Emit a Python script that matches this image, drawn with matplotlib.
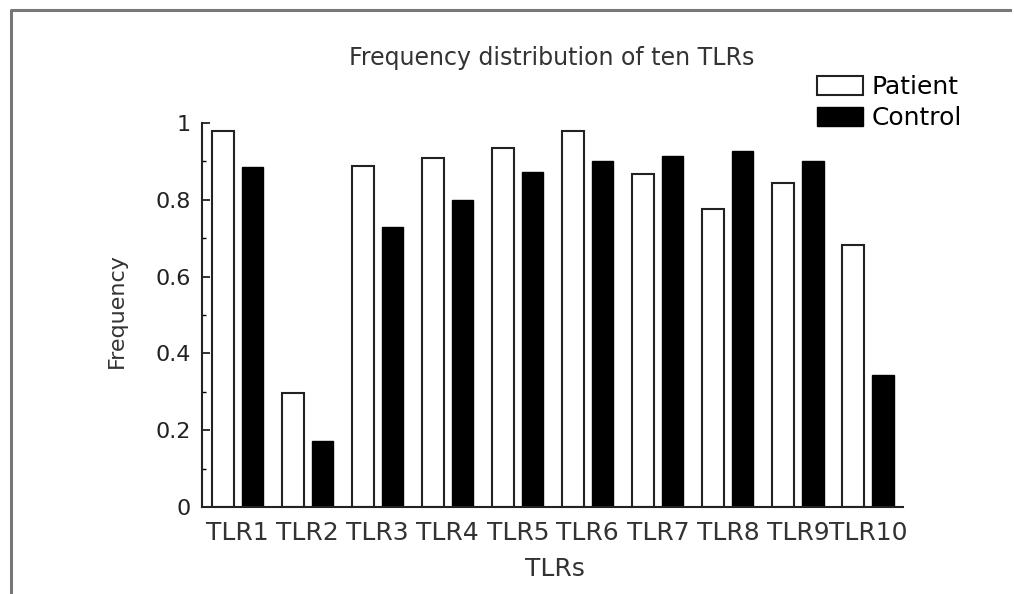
import numpy as np
import matplotlib
matplotlib.use('Agg')
import matplotlib.pyplot as plt
from matplotlib.lines import Line2D
from matplotlib.ticker import MultipleLocator

# values
tlrs = ['TLR1', 'TLR2', 'TLR3', 'TLR4', 'TLR5', 'TLR6', 'TLR7', 'TLR8', 'TLR9', 'TLR10']
patient = [0.979, 0.296, 0.889, 0.910, 0.934, 0.980, 0.867, 0.776, 0.843, 0.682]
control = [0.885, 0.172, 0.730, 0.800, 0.873, 0.901, 0.915, 0.928, 0.901, 0.344]

W, H = 1014, 594
fig = plt.figure(figsize=(W / 100, H / 100), dpi=100)
ax = fig.add_axes([202 / W, 1 - 507 / H, (903 - 202) / W, (507 - 123) / H])

x = np.arange(len(tlrs))
ax.bar(x - 0.21, patient, width=0.31, color='white', edgecolor='#222222', linewidth=1.5, label='Patient')
ax.bar(x + 0.21, control, width=0.31, color='black', edgecolor='black', linewidth=1.0, label='Control')

ax.set_xlim(-0.51, 9.5)
ax.set_ylim(0, 1)
ax.set_xticks(x)
ax.set_xticklabels(tlrs, fontsize=18)
ax.set_yticks([0, 0.2, 0.4, 0.6, 0.8, 1.0])
ax.set_yticklabels(['0', '0.2', '0.4', '0.6', '0.8', '1'], fontsize=16)
ax.yaxis.set_minor_locator(MultipleLocator(0.1))
ax.tick_params(axis='y', which='major', direction='in', length=6, width=1.3, pad=8, colors='#222222')
ax.tick_params(axis='y', which='minor', direction='in', length=3, width=1.0)
ax.tick_params(axis='x', length=0, pad=10, colors='#333333')

for s in ['top', 'right']:
    ax.spines[s].set_visible(False)
for s in ['left', 'bottom']:
    ax.spines[s].set_linewidth(1.5)
    ax.spines[s].set_color('#222222')

fig.text(552 / W, 1 - 58 / H, 'Frequency distribution of ten TLRs', fontsize=17,
         ha='center', va='center', color='#333333')
fig.text(555 / W, 1 - 569 / H, 'TLRs', fontsize=18, ha='center', va='center', color='#333333')
fig.text(117 / W, 1 - 311 / H, 'Frequency', fontsize=16, rotation=90,
         ha='center', va='center', color='#333333')

ax.legend(loc='upper left', bbox_to_anchor=(817 / W, 1 - 75 / H), bbox_transform=fig.transFigure,
          frameon=False, fontsize=18, handlelength=1.84, handleheight=0.76,
          handletextpad=0.36, labelspacing=0.28, borderpad=0, borderaxespad=0)

# gray frame around the figure
fig.add_artist(Line2D([11 / W, 11 / W, 1010 / W], [0, 1 - 10 / H, 1 - 10 / H],
                      transform=fig.transFigure, color='#777777', linewidth=2.2))

fig.savefig('out.png', dpi=100)
